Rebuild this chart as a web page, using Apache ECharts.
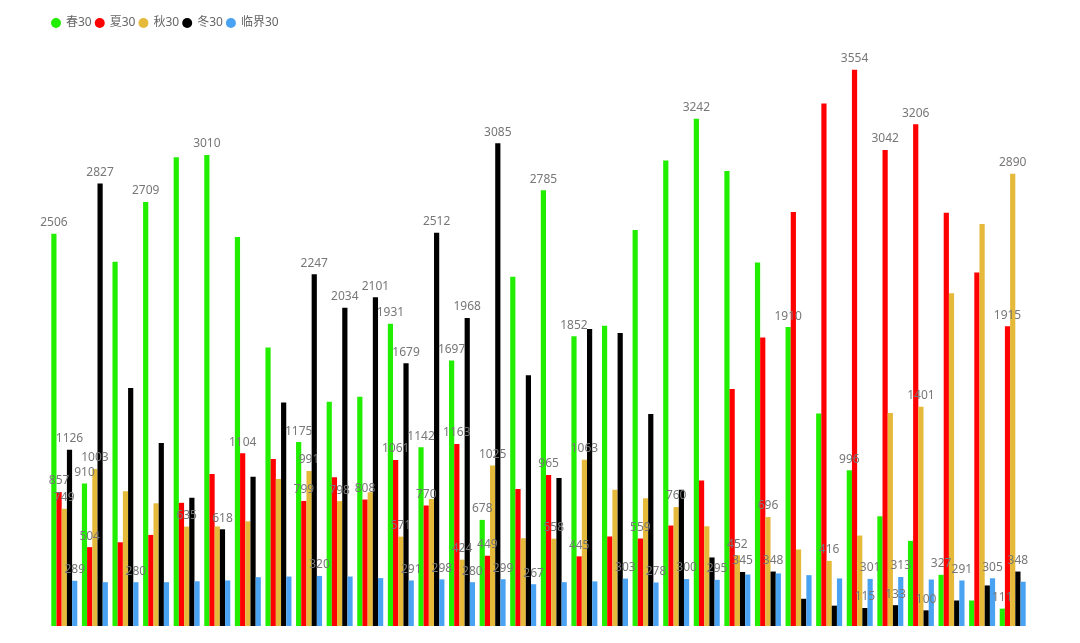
<!DOCTYPE html>
<html>
<head>
<meta charset="utf-8">
<script src="https://cdn.jsdelivr.net/npm/echarts@6/dist/echarts.min.js"></script>
<style>
html,body{margin:0;padding:0;background:#fff;}
#chart{width:1080px;height:643px;}
</style>
</head>
<body>
<div id="chart"></div>
<script>
var categories = ['1','2','3','4','5','6','7','8','9','10','11','12','13','14','15','16','17','18','19','20','21','22','23','24','25','26','27','28','29','30','31','32'];
var seriesNames = ['春30','夏30','秋30','冬30','临界30'];
var spring30 = [2506,910,2328,2709,2996,3010,2486,1779,1175,1433,1465,1931,1142,1697,678,2232,2785,1852,1918,2530,2975,3242,2907,2322,1910,1358,996,701,544,327,163,111];
var summer30 = [857,504,535,582,787,972,1104,1067,799,950,808,1061,770,1163,449,876,965,445,572,559,642,929,1514,1843,2645,3339,3554,3042,3206,2641,2258,1915];
var autumn30 = [749,1003,861,784,635,636,669,940,991,798,854,571,812,424,1025,561,558,1063,870,816,760,637,452,696,489,416,578,1361,1401,2126,2569,2890];
var winter30 = [1126,2827,1520,1169,819,618,954,1428,2247,2034,2101,1679,2512,1968,3085,1603,946,1897,1873,1354,870,438,345,348,174,130,115,133,100,163,259,348];
var critical30 = [289,280,280,280,286,291,312,316,320,316,306,291,298,280,299,267,280,285,303,278,300,295,329,336,325,304,301,313,297,291,305,283];

// indices of the bars whose value label is visible in the chart
var springLabels = [0,1,3,5,8,11,12,13,14,16,17,21,24,26,29,31];
var summerLabels = [0,1,6,8,10,11,12,13,14,16,17,19,26,27,28,31];
var autumnLabels = [0,1,4,8,9,11,13,14,16,17,20,22,23,25,28,31];
var winterLabels = [0,1,5,8,9,10,11,12,13,14,22,23,26,27,28,31];
var criticalLabels = [0,2,8,11,12,13,14,15,18,19,20,21,26,27,29,30];

var colors = ['#22ee00','#ff0000','#e5b93a','#000000','#4aa3f2'];

var font = '"Noto Sans", "Noto Sans CJK SC", sans-serif';
var dataList = [spring30, summer30, autumn30, winter30, critical30];
var labelList = [springLabels, summerLabels, autumnLabels, winterLabels, criticalLabels];
var series = seriesNames.map(function (name, i) {
  return {
    name: name,
    type: 'bar',
    barGap: 0,
    data: dataList[i].map(function (v, j) {
      return { value: v, label: { show: labelList[i].indexOf(j) >= 0 } };
    }),
    itemStyle: { color: colors[i] },
    label: {
      show: false,
      position: 'top',
      color: '#777',
      fontSize: 12,
      fontFamily: font
    }
  };
});

var chart = echarts.init(document.getElementById('chart'));
chart.setOption({
  color: colors,
  legend: {
    left: 46,
    top: 12,
    icon: 'circle',
    itemWidth: 10,
    itemHeight: 10,
    itemGap: 3,
    textStyle: { color: '#666', fontSize: 12, fontFamily: font },
    data: seriesNames
  },
  grid: { left: 49, right: 52, top: 0, bottom: 17 },
  xAxis: {
    type: 'category',
    data: categories,
    show: false
  },
  yAxis: {
    type: 'value',
    min: 0,
    max: 4000,
    show: false
  },
  series: series
});
</script>
</body>
</html>
